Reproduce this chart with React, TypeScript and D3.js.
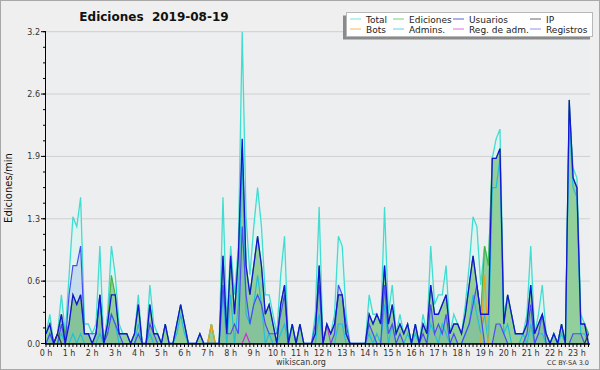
import React from "react";
import * as d3 from "d3";

// 10-minute slots starting at 0:00 (edits per minute)
const hourLabels = ["0 h","1 h","2 h","3 h","4 h","5 h","6 h","7 h","8 h","9 h","10 h","11 h","12 h","13 h","14 h","15 h","16 h","17 h","18 h","19 h","20 h","21 h","22 h","23 h"];
const yTickLabels = ["0.0","0.6","1.3","1.9","2.6","3.2"];

const total = [
  0.1,0.3,0.0,0.1,0.5,0.1,
  0.7,1.3,1.2,1.5,0.2,0.2,
  0.1,0.2,1.0,0.0,0.3,1.0,
  0.7,0.2,0.1,0.1,0.0,0.1,
  0.5,0.0,0.0,0.6,0.2,0.1,
  0.0,0.2,0.0,0.0,0.2,0.4,
  0.2,0.0,0.0,0.0,0.1,0.0,
  0.0,0.2,0.0,0.0,1.5,0.2,
  1.0,0.5,1.0,3.2,1.3,0.7,
  1.2,1.6,1.2,0.5,0.5,0.3,
  0.1,0.7,1.1,0.0,0.2,0.0,
  0.2,0.0,0.0,0.0,0.3,1.4,
  0.0,0.2,0.1,0.3,1.1,1.0,
  0.3,0.0,0.0,0.0,0.0,0.0,
  0.5,0.3,0.3,0.2,1.4,0.3,
  0.6,0.1,0.3,0.1,0.2,0.0,
  0.2,0.0,0.3,0.1,1.0,0.4,
  0.5,0.5,0.8,0.1,0.3,0.2,
  0.1,0.4,0.8,1.3,1.2,0.6,
  1.0,0.8,1.9,2.1,2.2,0.3,
  0.5,0.3,0.1,0.1,0.1,0.3,
  1.0,0.1,0.3,0.6,0.1,0.0,
  0.1,0.0,0.2,0.0,2.4,1.8,
  1.7,0.3,0.2,0.1
];
const ediciones = [
  0.1,0.2,0.0,0.1,0.3,0.1,
  0.2,0.5,0.4,0.5,0.1,0.1,
  0.0,0.1,0.5,0.0,0.2,0.7,
  0.5,0.1,0.1,0.1,0.0,0.1,
  0.4,0.0,0.0,0.4,0.1,0.1,
  0.0,0.2,0.0,0.0,0.2,0.4,
  0.2,0.0,0.0,0.0,0.1,0.0,
  0.0,0.2,0.0,0.0,0.9,0.1,
  0.9,0.3,0.9,2.0,0.8,0.5,
  0.8,1.1,0.8,0.3,0.4,0.2,
  0.0,0.4,0.6,0.0,0.2,0.0,
  0.2,0.0,0.0,0.0,0.1,0.8,
  0.0,0.2,0.1,0.2,0.5,0.5,
  0.1,0.0,0.0,0.0,0.0,0.0,
  0.3,0.2,0.3,0.2,0.8,0.2,
  0.4,0.1,0.2,0.1,0.2,0.0,
  0.2,0.0,0.2,0.1,0.6,0.3,
  0.3,0.4,0.5,0.1,0.2,0.2,
  0.1,0.3,0.6,0.9,0.6,0.3,
  1.0,0.8,1.9,1.9,2.0,0.2,
  0.5,0.3,0.1,0.1,0.1,0.2,
  0.6,0.1,0.2,0.3,0.1,0.0,
  0.1,0.0,0.2,0.0,2.5,1.7,
  1.6,0.2,0.2,0.1
];
const usuarios = [
  0.1,0.2,0.0,0.1,0.3,0.0,
  0.2,0.5,0.4,0.5,0.1,0.1,
  0.0,0.1,0.5,0.0,0.2,0.5,
  0.5,0.1,0.1,0.1,0.0,0.1,
  0.4,0.0,0.0,0.4,0.1,0.1,
  0.0,0.2,0.0,0.0,0.2,0.4,
  0.2,0.0,0.0,0.0,0.1,0.0,
  0.0,0.0,0.0,0.0,0.9,0.1,
  0.9,0.3,0.9,2.1,0.8,0.5,
  0.8,1.1,0.8,0.3,0.4,0.2,
  0.0,0.4,0.6,0.0,0.2,0.0,
  0.2,0.0,0.0,0.0,0.1,0.8,
  0.0,0.2,0.1,0.2,0.5,0.5,
  0.1,0.0,0.0,0.0,0.0,0.0,
  0.3,0.2,0.3,0.2,0.8,0.2,
  0.4,0.1,0.2,0.1,0.2,0.0,
  0.2,0.0,0.2,0.1,0.6,0.3,
  0.3,0.4,0.5,0.1,0.2,0.2,
  0.1,0.3,0.6,0.9,0.6,0.3,
  0.3,0.3,1.9,1.9,2.0,0.2,
  0.5,0.3,0.1,0.1,0.1,0.2,
  0.6,0.1,0.2,0.3,0.1,0.0,
  0.1,0.0,0.2,0.0,2.5,1.7,
  1.6,0.2,0.2,0.0
];
const registros = [
  0.0,0.1,0.0,0.0,0.2,0.0,
  0.5,0.8,0.8,1.0,0.1,0.1,
  0.1,0.1,0.5,0.0,0.1,0.3,
  0.2,0.1,0.0,0.0,0.0,0.0,
  0.1,0.0,0.0,0.2,0.1,0.0,
  0.0,0.0,0.0,0.0,0.0,0.0,
  0.0,0.0,0.0,0.0,0.0,0.0,
  0.0,0.0,0.0,0.0,0.6,0.1,
  0.1,0.2,0.1,1.2,0.5,0.2,
  0.4,0.5,0.4,0.2,0.1,0.1,
  0.1,0.3,0.5,0.0,0.0,0.0,
  0.0,0.0,0.0,0.0,0.2,0.6,
  0.0,0.0,0.0,0.1,0.6,0.5,
  0.2,0.0,0.0,0.0,0.0,0.0,
  0.2,0.1,0.0,0.0,0.6,0.1,
  0.2,0.0,0.1,0.0,0.0,0.0,
  0.0,0.0,0.1,0.0,0.4,0.1,
  0.2,0.1,0.3,0.0,0.1,0.0,
  0.0,0.1,0.2,0.4,0.6,0.3,
  0.0,0.0,0.0,0.2,0.2,0.1,
  0.0,0.0,0.0,0.0,0.0,0.1,
  0.4,0.0,0.1,0.3,0.0,0.0,
  0.0,0.0,0.0,0.0,0.0,0.1,
  0.1,0.1,0.0,0.0
];
const admins = [
  0.0,0.1,0.0,0.0,0.1,0.0,
  0.0,0.1,0.0,0.1,0.0,0.0,
  0.0,0.0,0.1,0.0,0.2,0.3,
  0.2,0.0,0.0,0.0,0.0,0.0,
  0.2,0.0,0.0,0.1,0.0,0.0,
  0.0,0.0,0.0,0.0,0.1,0.3,
  0.1,0.0,0.0,0.0,0.0,0.0,
  0.0,0.0,0.0,0.0,0.5,0.0,
  0.5,0.0,0.4,1.9,0.3,0.2,
  0.4,0.7,0.4,0.0,0.1,0.0,
  0.0,0.1,0.2,0.0,0.0,0.0,
  0.0,0.0,0.0,0.0,0.0,0.3,
  0.0,0.0,0.0,0.0,0.2,0.2,
  0.0,0.0,0.0,0.0,0.0,0.0,
  0.1,0.0,0.1,0.0,0.4,0.0,
  0.2,0.0,0.0,0.0,0.1,0.0,
  0.1,0.0,0.0,0.0,0.2,0.1,
  0.0,0.2,0.1,0.0,0.0,0.0,
  0.0,0.1,0.2,0.5,0.3,0.1,
  0.3,0.0,1.6,1.6,1.9,0.1,
  0.2,0.0,0.0,0.0,0.1,0.0,
  0.2,0.0,0.1,0.1,0.0,0.0,
  0.1,0.0,0.1,0.0,2.3,1.6,
  1.5,0.1,0.1,0.0
];
const bots = new Array(142).fill(0).map((_, i) => (i === 43 ? 0.2 : i === 114 ? 0.7 : 0));
const regadm = new Array(142).fill(0).map((_, i) => (i === 73 ? 0.2 : i === 52 ? 0.1 : 0));
const ip = new Array(142).fill(0).map((_, i) => (i === 3 ? 0.1 : i === 141 ? 0.1 : 0));

const W = 600, H = 370;
const X0 = 46, X1 = 590, Y0 = 343.5, Y1 = 31.7;

export default function App() {
  const x = d3.scaleLinear().domain([0, 141.4]).range([X0, X1]);
  const y = d3.scaleLinear().domain([0, 3.2]).range([Y0, Y1]);
  const idx = d3.range(total.length);

  const area = (arr: number[]) =>
    d3.area<number>().x((i) => x(i)).y0(y(0)).y1((i) => y(arr[i]))(idx) || "";
  const line = (arr: number[]) =>
    d3.line<number>().x((i) => x(i)).y((i) => y(arr[i]))(idx) || "";

  const majors = d3.range(0, 6).map((k) => k * 0.64);
  const minors = d3.range(0, 21).map((k) => k * 0.16);
  const slotTicks = d3.range(0, 142);

  const legend = [
    { name: "Total", color: "#40e0d0", col: 0, row: 0 },
    { name: "Ediciones", color: "#4cbc4c", col: 1, row: 0 },
    { name: "Usuarios", color: "#2828d0", col: 2, row: 0 },
    { name: "IP", color: "#333333", col: 3, row: 0 },
    { name: "Bots", color: "#f0a030", col: 0, row: 1 },
    { name: "Admins.", color: "#30c0d8", col: 1, row: 1 },
    { name: "Reg. de adm.", color: "#cc44cc", col: 2, row: 1 },
    { name: "Registros", color: "#6c6cf0", col: 3, row: 1 },
  ];
  const legCols = [350, 393, 453, 530];

  const font = "DejaVu Sans, Verdana, sans-serif";

  return (
    <svg width={W} height={H} style={{ position: "absolute", left: 0, top: 0 }} fontFamily={font}>
      <rect x={0.5} y={0.5} width={W - 1} height={H - 1} fill="#efefef" stroke="#a8a8a8" />
      <rect x={X0} y={Y1} width={X1 - X0} height={Y0 - Y1} fill="#eceef0" />
      {majors.slice(1).map((v) => (
        <line key={v} x1={X0} x2={X1} y1={y(v)} y2={y(v)} stroke="#cfcfcf" strokeWidth={1} />
      ))}
      <defs>
        <clipPath id="plotclip">
          <rect x={X0} y={Y1 - 2} width={X1 - X0} height={Y0 - Y1 + 2} />
        </clipPath>
      </defs>
      <g clipPath="url(#plotclip)">
        <path d={area(total)} fill="#dff4f0" />
        <path d={area(registros)} fill="rgba(110,140,230,0.22)" />
        <path d={area(ediciones)} fill="rgba(70,170,70,0.5)" />
        <path d={line(total)} fill="none" stroke="#40ddd0" strokeWidth={1.3} />
        <path d={line(ediciones)} fill="none" stroke="#44b444" strokeWidth={1.2} />
        <path d={line(admins)} fill="none" stroke="#22c0d8" strokeWidth={1.2} />
        <path d={line(bots)} fill="none" stroke="#f0a020" strokeWidth={1.2} />
        <path d={line(regadm)} fill="none" stroke="#cc33cc" strokeWidth={1.2} />
        <path d={line(registros)} fill="none" stroke="#4c4cf4" strokeWidth={1.2} />
        <path d={line(ip)} fill="none" stroke="#333333" strokeWidth={1.2} />
        <path d={line(usuarios)} fill="none" stroke="#1414d4" strokeWidth={1.3} />
      </g>
      {/* axes */}
      <line x1={X0 - 0.5} x2={X0 - 0.5} y1={Y1} y2={Y0 + 1} stroke="#000" />
      <line x1={X0 - 0.5} x2={X1} y1={Y0 + 0.5} y2={Y0 + 0.5} stroke="#000" strokeWidth={1.5} />
      {minors.map((v) => (
        <line key={"m" + v} x1={X0 - 3} x2={X0} y1={y(v)} y2={y(v)} stroke="#000" />
      ))}
      {majors.map((v, k) => (
        <g key={"M" + v}>
          <line x1={X0 - 5} x2={X0} y1={y(v)} y2={y(v)} stroke="#000" />
          <text x={X0 - 6} y={y(v) + 3} fontSize={8} textAnchor="end" fill="#333">{yTickLabels[k]}</text>
        </g>
      ))}
      {slotTicks.map((i) => (
        <line key={"t" + i} x1={x(i)} x2={x(i)} y1={Y0} y2={Y0 + 3.5} stroke="#000" />
      ))}
      {hourLabels.map((l, h) => (
        <text key={l} x={x(h * 6)} y={Y0 + 12} fontSize={8} textAnchor="middle" fill="#333">{l}</text>
      ))}
      <text x={154} y={20.5} fontSize={12} fontWeight="bold" textAnchor="middle" fill="#111" style={{ whiteSpace: "pre" }}>{"Ediciones  2019-08-19"}</text>
      <text transform={`translate(12,188) rotate(-90)`} fontSize={10} textAnchor="middle" fill="#111">Ediciones/min</text>
      <text x={301} y={365} fontSize={8} textAnchor="middle" fill="#333">wikiscan.org</text>
      <text x={589} y={364.5} fontSize={6.5} textAnchor="end" fill="#333">CC BY-SA 3.0</text>
      {/* legend */}
      <rect x={343} y={15.5} width={247} height={24} fill="#8a8a8a" />
      <rect x={346.5} y={12.5} width={246} height={24} fill="#ffffff" stroke="#b8b8b8" />
      {legend.map((d) => (
        <g key={d.name}>
          <line x1={legCols[d.col]} x2={legCols[d.col] + 11} y1={19 + d.row * 10} y2={19 + d.row * 10} stroke={d.color} strokeWidth={1} strokeOpacity={0.75} />
          <text x={legCols[d.col] + 16} y={22.5 + d.row * 10} fontSize={9} fill="#222">{d.name}</text>
        </g>
      ))}
    </svg>
  );
}
